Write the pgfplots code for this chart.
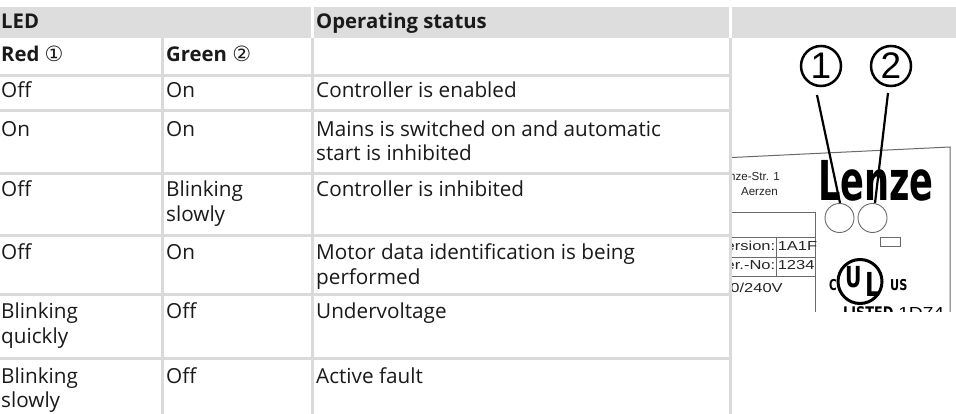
\documentclass[border=0pt]{standalone}
\usepackage{pgfplots}
\pgfplotsset{compat=1.18}
\usepackage{fontspec}
\setmainfont{Open Sans}
\newfontfamily\dejavu{DejaVu Sans}
\newfontfamily\arial{Liberation Sans}
\definecolor{hdr}{HTML}{DDDDDD}
\definecolor{rulec}{HTML}{DADADA}
\definecolor{txt}{HTML}{1A1A1A}
\definecolor{plate}{HTML}{6A6A6A}
\newcommand\tf{\fontsize{20.7bp}{25bp}\selectfont}
\newcommand\cdig[1]{{\mdseries\dejavu\fontsize{21bp}{21bp}\selectfont #1}}
\begin{document}
\begin{tikzpicture}[
  t/.style={anchor=base west, inner sep=0pt, text=txt, font=\tf},
  tb/.style={t, font=\fontsize{20.3bp}{25bp}\selectfont\bfseries},
  pt/.style={inner sep=0pt, text=black!85, font=\arial\fontsize{11.6bp}{12bp}\selectfont},
  bt/.style={inner sep=0pt, text=black!85, xscale=1.27, font=\arial\fontsize{13bp}{13bp}\selectfont},
]
\begin{axis}[
  scale only axis, width=956bp, height=414bp,
  xmin=0, xmax=956, ymin=0, ymax=414, y dir=reverse,
  hide axis, clip=false,
]
% background
\fill[white] (axis cs:0,0) rectangle (axis cs:956,414);
% header band
\fill[hdr] (axis cs:0,7) rectangle (axis cs:311,38);
\fill[hdr] (axis cs:314,7) rectangle (axis cs:729,38);
\fill[hdr] (axis cs:732,7) rectangle (axis cs:956,38);
% vertical rules
\fill[rulec] (axis cs:161,38) rectangle (axis cs:164,414);
\fill[rulec] (axis cs:311,38) rectangle (axis cs:314,414);
\fill[rulec] (axis cs:729,38) rectangle (axis cs:732,414);
% horizontal rules
\fill[rulec] (axis cs:0,74) rectangle (axis cs:729,77);
\fill[rulec] (axis cs:0,109) rectangle (axis cs:729,112);
\fill[rulec] (axis cs:0,172) rectangle (axis cs:729,175);
\fill[rulec] (axis cs:0,234) rectangle (axis cs:729,237);
\fill[rulec] (axis cs:0,293) rectangle (axis cs:729,296);
\fill[rulec] (axis cs:0,357) rectangle (axis cs:729,360);
% header texts
\node[tb] at (axis cs:1,29) {LED};
\node[tb] at (axis cs:316,29) {Operating status};
\node[tb] at (axis cs:1,62) {Red \cdig{①}};
\node[tb] at (axis cs:166,62) {Green \cdig{②}};
% row B
\node[t] at (axis cs:1,97) {Off};
\node[t] at (axis cs:166,97) {On};
\node[t] at (axis cs:316,97) {Controller is enabled};
% row C
\node[t] at (axis cs:1,136) {On};
\node[t] at (axis cs:166,136) {On};
\node[t] at (axis cs:316,136) {Mains is switched on and automatic};
\node[t] at (axis cs:316,160.5) {start is inhibited};
% row D
\node[t] at (axis cs:1,196) {Off};
\node[t] at (axis cs:166,196) {Blinking};
\node[t] at (axis cs:166,221) {slowly};
\node[t] at (axis cs:316,196) {Controller is inhibited};
% row E
\node[t] at (axis cs:1,259) {Off};
\node[t] at (axis cs:166,259) {On};
\node[t] at (axis cs:316,259) {Motor data identification is being};
\node[t] at (axis cs:316,284) {performed};
% row F
\node[t] at (axis cs:1,318) {Blinking};
\node[t] at (axis cs:1,343) {quickly};
\node[t] at (axis cs:166,318) {Off};
\node[t] at (axis cs:316,318) {Undervoltage};
% row G
\node[t] at (axis cs:1,383) {Blinking};
\node[t] at (axis cs:1,407) {slowly};
\node[t] at (axis cs:166,383) {Off};
\node[t] at (axis cs:316,383) {Active fault};
% ---- device drawing ----
\begin{scope}
\clip (axis cs:732,38) rectangle (axis cs:956,311);
% plate outline
\draw[plate, line width=1bp] (axis cs:732,157.5) -- (axis cs:950,147) -- (axis cs:950,320);
\node[pt, anchor=base east] at (axis cs:780,180) {Hans-Lenze-Str. 1};
\node[pt, anchor=base east] at (axis cs:778,195) {Aerzen};
% data box
\draw[plate, line width=0.9bp] (axis cs:725,212) -- (axis cs:815,212) -- (axis cs:815,320);
\draw[plate, line width=0.9bp] (axis cs:725,237.3) -- (axis cs:815,237.3);
\draw[plate, line width=0.9bp] (axis cs:725,257.3) -- (axis cs:815,257.3);
\draw[plate, line width=0.9bp] (axis cs:725,276.3) -- (axis cs:815,276.3);
\draw[plate, line width=0.9bp] (axis cs:776.3,237.3) -- (axis cs:776.3,276.3);
\node[bt, anchor=base east] at (axis cs:775.5,250.7) {Version:};
\node[bt, anchor=base west] at (axis cs:777.5,250.7) {1A1F};
\node[bt, anchor=base east] at (axis cs:775.5,269.7) {Ser.-No:};
\node[bt, anchor=base west] at (axis cs:777.5,269.7) {1234};
\node[bt, anchor=base east] at (axis cs:783,292) {230/240V};
% Lenze logo
\node[anchor=base west, inner sep=0pt, xscale=0.64, font=\dejavu\bfseries\fontsize{55bp}{55bp}\selectfont] at (axis cs:818,200) {Lenze};
% LEDs
\draw[plate, line width=0.9bp] (axis cs:839.5,218) circle[radius=14.5bp];
\draw[plate, line width=0.9bp] (axis cs:872.5,218) circle[radius=14.5bp];
\draw[plate, line width=0.9bp] (axis cs:880,237) rectangle (axis cs:900,246);
% callouts
\draw[line width=2.5bp] (axis cs:821,66) circle[radius=20bp];
\draw[line width=2.5bp] (axis cs:891,66) circle[radius=20bp];
\node[inner sep=0pt, font=\arial\fontsize{37bp}{37bp}\selectfont] at (axis cs:821,66) {1};
\node[inner sep=0pt, font=\arial\fontsize{37bp}{37bp}\selectfont] at (axis cs:891,66) {2};
\draw[line width=2.2bp] (axis cs:817,95) -- (axis cs:840,203);
\draw[line width=2.2bp] (axis cs:888,93) -- (axis cs:875,203);
% UL mark
\draw[line width=3bp] (axis cs:860,281.5) circle[radius=22bp];
\node[anchor=base west, inner sep=0pt, xscale=0.7, font=\dejavu\bfseries\fontsize{29bp}{29bp}\selectfont] at (axis cs:845,287) {U};
\node[anchor=base west, inner sep=0pt, xscale=0.7, font=\dejavu\bfseries\fontsize{33bp}{33bp}\selectfont] at (axis cs:865,296) {L};
\node[anchor=base west, inner sep=0pt, xscale=0.7, font=\dejavu\bfseries\fontsize{15bp}{15bp}\selectfont] at (axis cs:829,290) {C};
\node[anchor=base west, inner sep=0pt, xscale=0.75, font=\dejavu\bfseries\fontsize{15bp}{15bp}\selectfont] at (axis cs:890,290) {US};
\node[anchor=base west, inner sep=0pt, xscale=0.8, font=\dejavu\bfseries\fontsize{16bp}{16bp}\selectfont] at (axis cs:843,318) {LISTED};
\node[anchor=base west, inner sep=0pt, xscale=1.2, font=\arial\fontsize{16bp}{16bp}\selectfont] at (axis cs:898,318) {1D74};
\end{scope}
\end{axis}
\end{tikzpicture}
\end{document}
